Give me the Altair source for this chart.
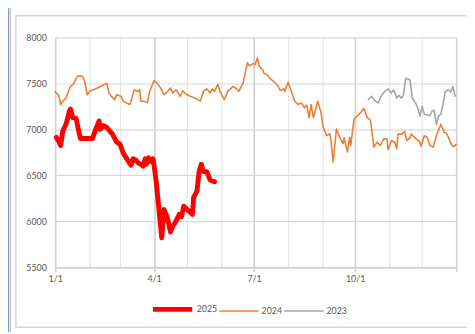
import altair as alt
import pandas as pd

# ---- data (day offset from Jan 1, value) ----
days_2025 = [1, 3, 5, 7, 10, 13, 14, 16, 19, 22, 23, 34, 37, 40, 41, 44, 47, 52, 56, 59,
             62, 66, 69, 71, 74, 75, 78, 80, 82, 83, 85, 87, 89, 90, 92, 94, 96, 97, 99, 102,
             105, 107, 109, 113, 115, 117, 120, 125, 126, 129, 131, 133, 135, 138, 141, 145]
vals_2025 = [6913, 6878, 6825, 6985, 7060, 7200, 7220, 7127, 7120, 6950, 6900, 6900, 7005, 7090, 7000, 7040, 7020, 6950, 6860, 6840,
             6740, 6665, 6610, 6680, 6660, 6640, 6620, 6600, 6680, 6620, 6690, 6650, 6680, 6610, 6430, 6180, 5940, 5820, 6130, 6045,
             5885, 5950, 5980, 6075, 6050, 6165, 6130, 6075, 6260, 6325, 6540, 6620, 6540, 6540, 6450, 6430]

days_2024 = [0, 1, 3, 5, 7, 10, 12, 14, 17, 20, 22, 25, 27, 29, 32, 37, 43, 47, 49, 51,
             54, 56, 60, 62, 65, 68, 69, 72, 75, 77, 78, 81, 84, 86, 90, 93, 96, 99, 102, 105,
             107, 110, 111, 114, 116, 119, 123, 127, 132, 135, 138, 141, 143, 145, 148, 150, 154, 157, 162, 165,
             167, 171, 175, 177, 180, 182, 184, 186, 189, 190, 193, 196, 199, 202, 205, 208, 209, 212, 215, 218,
             221, 224, 227, 229, 231, 233, 235, 239, 242, 244, 247, 250, 251, 253, 256, 259, 262, 263, 266, 268,
             269, 272, 275, 278, 281, 284, 287, 290, 293, 296, 299, 302, 303, 306, 309, 311, 312, 315, 318, 320,
             323, 324, 327, 332, 333, 336, 339, 341, 344, 347, 351, 354, 356, 358, 361, 363, 365]
vals_2024 = [7412, 7394, 7377, 7270, 7306, 7340, 7412, 7466, 7500, 7573, 7583, 7573, 7519, 7377, 7420, 7441, 7476, 7500, 7394, 7359,
             7323, 7377, 7359, 7306, 7287, 7270, 7306, 7430, 7412, 7430, 7306, 7306, 7287, 7412, 7530, 7500, 7448, 7377, 7405, 7448,
             7394, 7430, 7412, 7359, 7420, 7384, 7359, 7340, 7306, 7412, 7441, 7394, 7441, 7412, 7490, 7412, 7323, 7412, 7466, 7441,
             7412, 7500, 7725, 7690, 7715, 7705, 7776, 7680, 7644, 7608, 7590, 7548, 7519, 7484, 7420, 7441, 7412, 7512, 7412, 7306,
             7270, 7287, 7234, 7263, 7127, 7270, 7127, 7306, 7181, 7020, 6932, 6950, 6878, 6646, 7003, 6913, 6843, 6907, 6753, 6913,
             6825, 7110, 7145, 7181, 7228, 7127, 7100, 6806, 6860, 6825, 6896, 6896, 6778, 6878, 6860, 6790, 6950, 6945, 6978, 6878,
             6907, 6950, 6913, 6860, 6814, 6932, 6907, 6825, 6806, 6932, 7056, 6967, 6960, 6913, 6825, 6814, 6836]

days_2023 = [285, 288, 291, 294, 297, 300, 303, 306, 308, 311, 313, 315, 317, 319, 323, 325, 328, 330, 332, 334,
             336, 339, 341, 343, 345, 347, 349, 351, 353, 355, 358, 360, 362, 364]
vals_2023 = [7323, 7359, 7313, 7287, 7370, 7412, 7441, 7394, 7430, 7340, 7370, 7340, 7370, 7555, 7537, 7340, 7287, 7234, 7145, 7252,
             7163, 7155, 7145, 7199, 7206, 7050, 7145, 7163, 7270, 7412, 7430, 7405, 7466, 7359]

series_names = ["2025", "2024", "2023"]
series_colors = ["#ff0000", "#ed7d31", "#a5a5a5"]
series_widths = [5, 1.6, 1.6]
y_ticks = [5500, 6000, 6500, 7000, 7500, 8000]

base_date = pd.Timestamp("2025-01-01")
frames = []
for name, days, vals in [("2023", days_2023, vals_2023), ("2024", days_2024, vals_2024), ("2025", days_2025, vals_2025)]:
    dates = [(base_date + pd.Timedelta(days=d)).strftime("%Y-%m-%d") for d in days]
    frames.append(pd.DataFrame({"date": dates, "value": vals, "series": name}))
df = pd.concat(frames, ignore_index=True)

FONT = "Lato"
month_ticks = [alt.DateTime(year=2025, month=m, date=1, utc=True) for m in range(1, 13)] + \
              [alt.DateTime(year=2026, month=1, date=1, utc=True)]
quarter_test = "utcmonth(datum.value) % 3 == 0"

lines = alt.Chart(df).mark_line(strokeCap="round", strokeJoin="round").encode(
    x=alt.X("date:T",
            scale=alt.Scale(type="utc", domain=[alt.DateTime(year=2025, month=1, date=1, utc=True),
                                                alt.DateTime(year=2026, month=1, date=1, utc=True)]),
            axis=alt.Axis(title=None, values=month_ticks,
                          labelExpr="utcmonth(datum.value) % 3 == 0 && utcyear(datum.value) == 2025 ? (utcmonth(datum.value) + 1) + '/1' : ''",
                          grid=True,
                          gridColor={"condition": {"test": quarter_test, "value": "#cfcfcf"}, "value": "#e3e3e3"},
                          gridWidth={"condition": {"test": quarter_test, "value": 1.6}, "value": 1},
                          tickColor={"condition": {"test": quarter_test, "value": "#cfcfcf"}, "value": "transparent"},
                          tickSize=4, tickWidth=1.6,
                          domainColor="#cfcfcf", domainWidth=1.6,
                          labelFont=FONT, labelFontSize=9, labelColor="#595959",
                          labelPadding=3, labelFlush=False, labelOverlap=False)),
    y=alt.Y("value:Q",
            scale=alt.Scale(domain=[5500, 8000], nice=False, zero=False),
            axis=alt.Axis(title=None, values=y_ticks, format="d", grid=True, gridColor="#d9d9d9", gridWidth=1.2,
                          ticks=False, domain=False, labelFont=FONT, labelFontSize=9, labelColor="#595959",
                          labelPadding=9)),
    color=alt.Color("series:N", scale=alt.Scale(domain=series_names, range=series_colors),
                    legend=alt.Legend(title=None)),
    strokeWidth=alt.StrokeWidth("series:N", scale=alt.Scale(type="ordinal", domain=series_names, range=series_widths),
                                legend=alt.Legend(title=None)),
    order=alt.Order("series:N"),
)

deco_data = alt.Data(values=[{"k": 1}])
frame = alt.Chart(deco_data).mark_rect(fillOpacity=0, stroke="#d6d6d6", strokeWidth=1.5).encode(
    x=alt.value(-40), x2=alt.value(480), y=alt.value(-22), y2=alt.value(295))
edge1 = alt.Chart(deco_data).mark_rule(color="#8294b4", strokeWidth=1.2).encode(
    x=alt.value(-47.3), y=alt.value(-30), y2=alt.value(300))
edge2 = alt.Chart(deco_data).mark_rule(color="#b9c2d0", strokeWidth=1).encode(
    x=alt.value(-45.5), y=alt.value(-30), y2=alt.value(300))

chart = alt.layer(frame, edge1, edge2, lines).properties(
    width=408, height=234,
    padding={"left": 48, "top": 27, "right": 11, "bottom": 65},
    autosize=alt.AutoSizeParams(type="none"),
    background="white",
).configure_view(stroke=None).configure_legend(
    orient="none", legendX=97, legendY=254, direction="horizontal",
    symbolType="stroke", symbolSize=1600, labelFont=FONT, labelFontSize=9, labelColor="#595959",
    labelOffset=2, columnPadding=-2, symbolStrokeColor="black",
)

chart.save("out.html", embed_options={"renderer": "svg", "actions": False})
